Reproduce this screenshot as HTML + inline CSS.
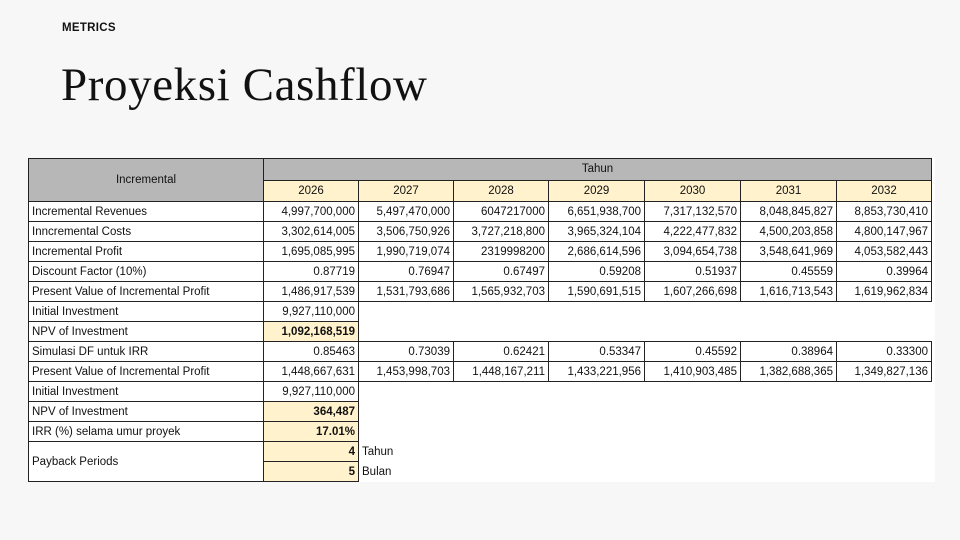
<!DOCTYPE html>
<html><head><meta charset="utf-8"><style>
body{margin:0;width:960px;height:540px;background:#f7f7f7;position:relative;overflow:hidden;font-family:"Liberation Sans",sans-serif}
.m{position:absolute;left:62px;top:22px;font-size:11.5px;font-weight:bold;color:#111;letter-spacing:0.3px}
.t{position:absolute;left:61px;top:58px;font-family:"Liberation Serif",serif;font-size:47px;color:#111;letter-spacing:0.6px}
.bg{position:absolute;left:28px;top:158px;width:907px;height:324px;background:#fff}
table{position:absolute;left:28px;top:158px;border-collapse:collapse;table-layout:fixed;font-size:11.5px;color:#111}
td{border:1px solid #222;height:19px;padding:0 3px;white-space:nowrap;text-align:right;line-height:18px}
tr.hd td{height:20.5px}
td.l{text-align:left}
.g{background:#b7b7b7;text-align:center}
.y{background:#fff2cc;text-align:center}
.h{background:#fff2cc;font-weight:bold}
.n{border:none}
</style></head><body>
<div class="m">METRICS</div>
<div class="t">Proyeksi Cashflow</div>
<div class="bg"></div>
<table>
<colgroup><col style="width:235px"><col style="width:95px"><col style="width:95px"><col style="width:95px"><col style="width:96px"><col style="width:96px"><col style="width:96px"><col style="width:95px"></colgroup>
<tr class="hd"><td class="g" rowspan="2" style="border-bottom:1px solid #222">Incremental</td><td class="g" colspan="7">Tahun</td></tr>
<tr class="hd"><td class="y">2026</td><td class="y">2027</td><td class="y">2028</td><td class="y">2029</td><td class="y">2030</td><td class="y">2031</td><td class="y">2032</td></tr>
<tr><td class="l">Incremental Revenues</td><td>4,997,700,000</td><td>5,497,470,000</td><td>6047217000</td><td>6,651,938,700</td><td>7,317,132,570</td><td>8,048,845,827</td><td>8,853,730,410</td></tr>
<tr><td class="l">Inncremental Costs</td><td>3,302,614,005</td><td>3,506,750,926</td><td>3,727,218,800</td><td>3,965,324,104</td><td>4,222,477,832</td><td>4,500,203,858</td><td>4,800,147,967</td></tr>
<tr><td class="l">Incremental Profit</td><td>1,695,085,995</td><td>1,990,719,074</td><td>2319998200</td><td>2,686,614,596</td><td>3,094,654,738</td><td>3,548,641,969</td><td>4,053,582,443</td></tr>
<tr><td class="l">Discount Factor (10%)</td><td>0.87719</td><td>0.76947</td><td>0.67497</td><td>0.59208</td><td>0.51937</td><td>0.45559</td><td>0.39964</td></tr>
<tr><td class="l">Present Value of Incremental Profit</td><td>1,486,917,539</td><td>1,531,793,686</td><td>1,565,932,703</td><td>1,590,691,515</td><td>1,607,266,698</td><td>1,616,713,543</td><td>1,619,962,834</td></tr>
<tr><td class="l">Initial Investment</td><td>9,927,110,000</td><td class="n" colspan="6"></td></tr>
<tr><td class="l">NPV of Investment</td><td class="h">1,092,168,519</td><td class="n" colspan="6"></td></tr>
<tr><td class="l">Simulasi DF untuk IRR</td><td>0.85463</td><td>0.73039</td><td>0.62421</td><td>0.53347</td><td>0.45592</td><td>0.38964</td><td>0.33300</td></tr>
<tr><td class="l">Present Value of Incremental Profit</td><td>1,448,667,631</td><td>1,453,998,703</td><td>1,448,167,211</td><td>1,433,221,956</td><td>1,410,903,485</td><td>1,382,688,365</td><td>1,349,827,136</td></tr>
<tr><td class="l">Initial Investment</td><td>9,927,110,000</td><td class="n" colspan="6"></td></tr>
<tr><td class="l">NPV of Investment</td><td class="h">364,487</td><td class="n" colspan="6"></td></tr>
<tr><td class="l">IRR (%) selama umur proyek</td><td class="h">17.01%</td><td class="n" colspan="6"></td></tr>
<tr><td class="l" rowspan="2">Payback Periods</td><td class="h">4</td><td class="n l" colspan="6">Tahun</td></tr>
<tr><td class="h">5</td><td class="n l" colspan="6">Bulan</td></tr>
</table>
</body></html>
